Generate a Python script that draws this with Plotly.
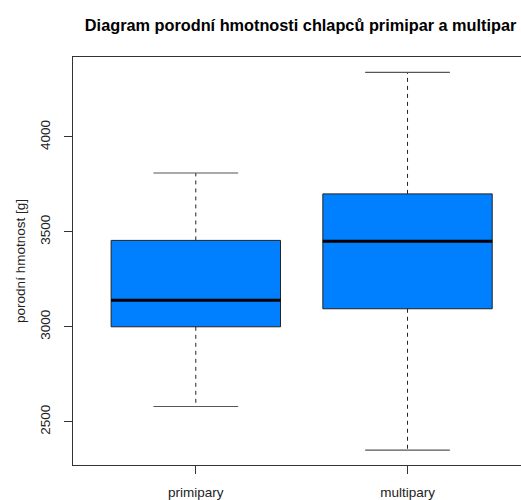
import plotly.graph_objects as go

# Birth weight summary (grams) for boys of primiparous and multiparous mothers
groups = ["primipary", "multipary"]
positions = [1, 2]
lower_whisker = [2580, 2350]
q1 = [3000, 3095]
median = [3140, 3450]
q3 = [3455, 3700]
upper_whisker = [3810, 4340]

y_ticks = [2500, 3000, 3500, 4000]

box_half = 0.4
cap_half = 0.2
box_fill = "#0080FF"

fig = go.Figure()

for i, name in enumerate(groups):
    x0 = positions[i]
    # dashed whiskers from box edges to extremes
    fig.add_trace(go.Scatter(
        x=[x0, x0, None, x0, x0],
        y=[q3[i], upper_whisker[i], None, q1[i], lower_whisker[i]],
        mode="lines", line=dict(color="#222222", width=1, dash="4px,4px"),
        hoverinfo="skip", showlegend=False))
    # whisker caps
    fig.add_trace(go.Scatter(
        x=[x0 - cap_half, x0 + cap_half, None, x0 - cap_half, x0 + cap_half],
        y=[upper_whisker[i], upper_whisker[i], None, lower_whisker[i], lower_whisker[i]],
        mode="lines", line=dict(color="#555555", width=1.2),
        hoverinfo="skip", showlegend=False))

# filled boxes (Q1..Q3)
fig.add_trace(go.Box(
    x=positions, q1=q1, median=median, q3=q3,
    lowerfence=q1, upperfence=q3,
    width=0.8, fillcolor=box_fill,
    line=dict(color="#222222", width=1),
    whiskerwidth=0, showlegend=False, hoverinfo="skip"))

# thick median bars
for i in range(len(groups)):
    x0 = positions[i]
    fig.add_trace(go.Scatter(
        x=[x0 - box_half, x0 + box_half], y=[median[i], median[i]],
        mode="lines", line=dict(color="black", width=3),
        hoverinfo="skip", showlegend=False))

font_main = "Liberation Sans, Arial, sans-serif"

fig.update_layout(
    width=521, height=500,
    margin=dict(l=73, r=0, t=57, b=35),
    paper_bgcolor="white", plot_bgcolor="white",
    font=dict(family=font_main, size=13, color="#000000"),
    title=dict(text="<b>Diagram porodní hmotnosti chlapců primipar a multipar</b>",
               x=0.577, xanchor="center", y=0.95, yanchor="middle",
               font=dict(size=16.3, color="black", family=font_main)),
    showlegend=False,
)

fig.update_xaxes(
    range=[0.42, 2.536], tickmode="array", tickvals=positions, ticktext=groups,
    showgrid=False, zeroline=False,
    showline=True, linecolor="#333333", linewidth=1, mirror=True,
    ticks="outside", ticklen=8, tickcolor="#333333",
    ticklabelstandoff=7,
    tickfont=dict(size=13.5, color="#222222"),
)

fig.update_yaxes(
    range=[2272, 4421], tickmode="array", tickvals=y_ticks,
    ticktext=[str(v) for v in y_ticks], tickangle=-90,
    showgrid=False, zeroline=False,
    showline=True, linecolor="#333333", linewidth=1, mirror=False,
    ticks="outside", ticklen=8, tickcolor="#333333",
    ticklabelstandoff=9,
    tickfont=dict(size=13.5, color="#222222"),
    title=dict(text="porodní hmotnost [g]", font=dict(size=13.5, color="#222222"), standoff=8),
)

fig.write_html("out.html")
